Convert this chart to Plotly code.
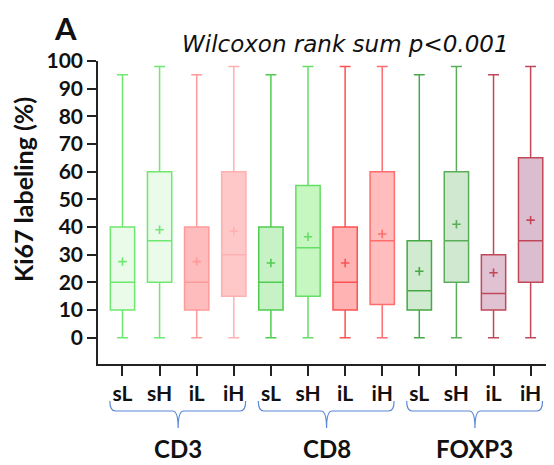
import plotly.graph_objects as go

# ---- data ----
categories = ["sL", "sH", "iL", "iH"] * 3
groups = ["CD3", "CD8", "FOXP3"]
upper = [95, 98, 95, 98, 95, 98, 98, 98, 95, 98, 95, 98]
q3 = [40, 60, 40, 60, 40, 55, 40, 60, 35, 60, 30, 65]
median = [20, 35, 20, 30, 20, 32.5, 20, 35, 17, 35, 16, 35]
q1 = [10, 20, 10, 15, 10, 15, 10, 12, 10, 20, 10, 20]
lower = [0] * 12
mean = [27.5, 39, 27.5, 38.5, 27, 36.5, 27, 37.5, 24, 41, 23.5, 42.5]
yticks = list(range(0, 101, 10))

line_colors = ["#6EE86E", "#6EE86E", "#FF9A9A", "#FFB0B0",
               "#50CC50", "#66DD66", "#FF5252", "#FF6E6E",
               "#46A846", "#5AAE5A", "#C04858", "#C04858"]
fill_colors = ["#EAFBEA", "#EAFBEA", "#FFBCBC", "#FFC8C8",
               "#C6F2C6", "#C6F7C0", "#FFB3B3", "#FFBDBD",
               "#D0EBD0", "#D0E8D0", "#E0C2D3", "#DCBDD0"]

# ---- layout geometry ----
# the page body adds an 8px offset; work in screen pixels and convert
OFF = 8
SW, SH = 554, 465
W, H = SW - OFF, SH - OFF
S_left, S_top, S_right, S_bottom = 98, 61, 554, 364
L, T = S_left - OFF, S_top - OFF
R = W - (S_right - OFF)
B = H - (S_bottom - OFF)
pw, ph = W - L - R, H - T - B


def px_x(sx):
    return (sx - S_left) / pw


def px_y(sy):
    return (S_bottom - sy) / ph


fig = go.Figure()
xs = list(range(len(categories)))
for i in xs:
    fig.add_trace(go.Box(
        x=[i], q1=[q1[i]], median=[median[i]], q3=[q3[i]],
        lowerfence=[lower[i]], upperfence=[upper[i]],
        width=0.655, whiskerwidth=0.45,
        line=dict(color=line_colors[i], width=1.5),
        fillcolor=fill_colors[i], showlegend=False, hoverinfo="skip",
    ))
    fig.add_trace(go.Scatter(
        x=[i], y=[mean[i]], mode="markers", showlegend=False,
        marker=dict(symbol="cross-thin", size=6,
                    line=dict(color=line_colors[i], width=1.6)),
    ))

# braces and group labels
brace_col = "#5B86D6"
y_tip, y_line, y_stem = px_y(401), px_y(411), px_y(428)
for g, name in enumerate(groups):
    c = 4 * g + 1.5
    x0, x1 = c - 1.84, c + 1.82
    d = 0.15
    path = (f"M {x0},{y_tip} Q {x0},{y_line} {x0+d},{y_line} "
            f"L {c-d},{y_line} Q {c},{y_line} {c},{y_stem} "
            f"Q {c},{y_line} {c+d},{y_line} "
            f"L {x1-d},{y_line} Q {x1},{y_line} {x1},{y_tip}")
    fig.add_shape(type="path", path=path, xref="x", yref="paper",
                  line=dict(color=brace_col, width=1.2))
    fig.add_annotation(x=c, y=px_y(448), xref="x", yref="paper",
                       text=name, showarrow=False, xanchor="center", yanchor="middle",
                       font=dict(family="Lato", size=24, color="#111111", weight="bold"))

fig.add_annotation(x=px_x(23), y=px_y(190), xref="paper", yref="paper",
                   text="Ki67 labeling (%)", textangle=-90, showarrow=False,
                   xanchor="center", yanchor="middle",
                   font=dict(family="Lato", size=25, color="#111111", weight="bold"))
fig.add_annotation(x=px_x(65), y=px_y(OFF), xref="paper", yref="paper",
                   text="A", showarrow=False, xanchor="center", yanchor="top",
                   borderpad=0,
                   font=dict(family="Lato", size=31, color="#111111", weight="bold"))
fig.add_annotation(x=px_x(511), y=px_y(44), xref="paper", yref="paper",
                   text="<i>Wilcoxon rank sum p<0.001</i>", showarrow=False,
                   xanchor="right", yanchor="middle",
                   font=dict(family="DejaVu Sans", size=23, color="#111111"))

fig.update_layout(
    width=W, height=H, margin=dict(l=L, r=R, t=T, b=B, autoexpand=False),
    plot_bgcolor="white", paper_bgcolor="white", boxmode="overlay",
    xaxis=dict(range=[-0.66, 11.63], tickvals=xs, ticktext=categories,
               showline=True, linecolor="#222222", linewidth=1.5,
               ticks="outside", ticklen=10, tickcolor="#222222", tickwidth=1.5,
               showgrid=False, zeroline=False,
               tickfont=dict(family="Lato", size=21, color="#111111", weight="bold")),
    yaxis=dict(range=[-9.5, 100], tickvals=yticks,
               showline=True, linecolor="#222222", linewidth=1.5,
               ticks="outside", ticklen=9, tickcolor="#222222", tickwidth=1.5,
               showgrid=False, zeroline=False,
               tickfont=dict(family="Lato", size=21, color="#111111", weight="bold")),
)

fig.write_html("out.html")
